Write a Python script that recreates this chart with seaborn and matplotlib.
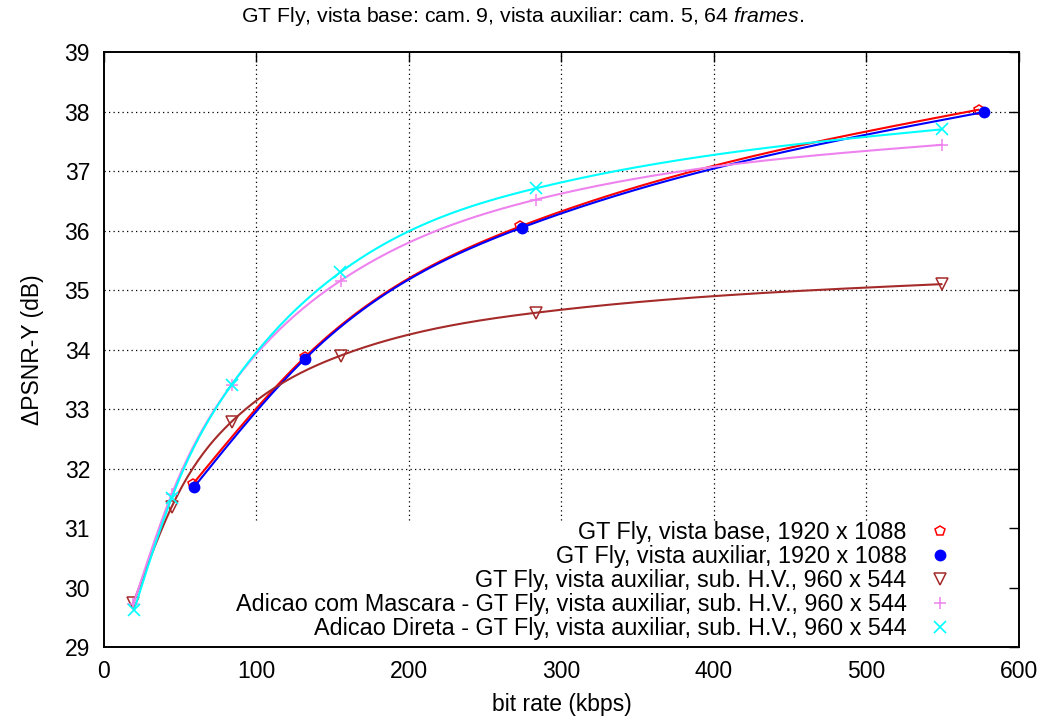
import numpy as np
import pandas as pd
import matplotlib
matplotlib.use("Agg")
import matplotlib.pyplot as plt
import seaborn as sns

# ---------------- data ----------------
base_x = [58.5, 132.0, 273.0, 573.5]
base_y = [31.75, 33.88, 36.07, 38.03]

aux_x = [59.0, 132.0, 274.0, 577.0]
aux_y = [31.69, 33.85, 36.05, 37.99]

sub_x = [19.2, 44.4, 83.7, 155.2, 283.3, 549.3]
sub_y = [29.74, 31.36, 32.79, 33.90, 34.62, 35.10]

masc_x = [19.2, 44.4, 83.7, 155.2, 283.3, 549.3]
masc_y = [29.72, 31.57, 33.41, 35.16, 36.52, 37.44]

direta_x = [19.8, 44.4, 83.7, 155.0, 283.3, 549.3]
direta_y = [29.63, 31.51, 33.41, 35.30, 36.71, 37.70]

labels = [
    "GT Fly, vista base, 1920 x 1088",
    "GT Fly, vista auxiliar, 1920 x 1088",
    "GT Fly, vista auxiliar, sub. H.V., 960 x 544",
    "Adicao com Mascara - GT Fly, vista auxiliar, sub. H.V., 960 x 544",
    "Adicao Direta - GT Fly, vista auxiliar, sub. H.V., 960 x 544",
]
xticks = [0, 100, 200, 300, 400, 500, 600]
yticks = [29, 30, 31, 32, 33, 34, 35, 36, 37, 38, 39]

# ---------------- style ----------------
sns.set_theme(style="white")
plt.rcParams["font.family"] = ["Liberation Sans", "DejaVu Sans"]
plt.rcParams["mathtext.fontset"] = "custom"
plt.rcParams["mathtext.rm"] = "Liberation Sans"
plt.rcParams["mathtext.it"] = "Liberation Sans:italic"
plt.rcParams["text.color"] = "black"
plt.rcParams["axes.labelcolor"] = "black"
plt.rcParams["xtick.color"] = "black"
plt.rcParams["ytick.color"] = "black"
FS = 16.5


def natural_spline(x, y, n=300):
    """Natural cubic spline (like gnuplot 'smooth csplines') used to draw the curve."""
    x = np.asarray(x, float)
    y = np.asarray(y, float)
    k = len(x)
    h = np.diff(x)
    A = np.zeros((k, k))
    b = np.zeros(k)
    A[0, 0] = A[-1, -1] = 1.0
    for i in range(1, k - 1):
        A[i, i - 1] = h[i - 1]
        A[i, i] = 2 * (h[i - 1] + h[i])
        A[i, i + 1] = h[i]
        b[i] = 6 * ((y[i + 1] - y[i]) / h[i] - (y[i] - y[i - 1]) / h[i - 1])
    M = np.linalg.solve(A, b)
    xs = np.linspace(x[0], x[-1], n)
    idx = np.clip(np.searchsorted(x, xs) - 1, 0, k - 2)
    xi, xi1, hi = x[idx], x[idx + 1], h[idx]
    ys = (M[idx] * (xi1 - xs) ** 3 / (6 * hi)
          + M[idx + 1] * (xs - xi) ** 3 / (6 * hi)
          + (y[idx] / hi - M[idx] * hi / 6) * (xi1 - xs)
          + (y[idx + 1] / hi - M[idx + 1] * hi / 6) * (xs - xi))
    return xs, ys


fig = plt.figure(figsize=(10.45, 7.22), dpi=100)
ax = fig.add_axes([0.0995, 0.1035, 0.8756, 0.8245])

# grid (dotted), hidden behind the key area
grid_kw = dict(color="black", lw=0.9, linestyle=(0, (1, 2.6)), zorder=0.8)
ax.vlines(xticks[1:-1], 31.14, 39, **grid_kw)
ax.hlines([v for v in yticks[1:-1] if v >= 32], 0, 600, **grid_kw)

series = [
    (base_x, base_y, "#ff0000", dict(marker="p", ms=7.5, mfc="none", mew=1.1)),
    (aux_x, aux_y, "#0000ff", dict(marker="o", ms=7.5, mfc="#0000ff", mew=1.0)),
    (sub_x, sub_y, "#a52a2a", dict(marker="v", ms=8, mfc="none", mew=1.1)),
    (masc_x, masc_y, "#ee82ee", dict(marker="+", ms=9, mew=1.1)),
    (direta_x, direta_y, "#00ffff", dict(marker="x", ms=8, mew=1.2)),
]

z = 2
for (xv, yv, col, mk), lab in zip(series, labels):
    xs, ys = natural_spline(xv, yv)
    df = pd.DataFrame({"x": xs, "y": ys})
    sns.lineplot(data=df, x="x", y="y", ax=ax, color=col, lw=1.5,
                 sort=False, legend=False, zorder=z)
    ax.plot(xv, yv, linestyle="none", color=col, mec=col, label=lab,
            zorder=z + 0.5, **mk)
    z += 1

ax.set_xlim(0, 600)
ax.set_ylim(29, 39)
ax.set_xticks(xticks)
ax.set_yticks(yticks)
ax.tick_params(direction="in", top=True, right=True, length=7, width=1.0,
               colors="black", labelsize=FS)
ax.tick_params(axis="x", pad=9.5)
ax.tick_params(axis="y", pad=10)
for s in ax.spines.values():
    s.set_color("black")
    s.set_linewidth(1.4)

ax.set_xlabel("bit rate (kbps)", fontsize=FS, labelpad=7)
ax.set_ylabel("\u0394PSNR-Y (dB)", fontsize=FS, labelpad=15)
fig.text(0.5, 1 - 22 / 722,
         r"GT Fly, vista base: cam. 9, vista auxiliar: cam. 5, 64 $\mathit{frames}$.",
         fontsize=15.3, ha="center", va="baseline", color="black")

leg = ax.legend(loc="lower right", bbox_to_anchor=(0.926, 0.012), markerfirst=False,
                frameon=False, fontsize=16.8, handlelength=1.0, handletextpad=0.92,
                labelspacing=0.04, borderpad=0, borderaxespad=0)

fig.savefig("out.png", dpi=100)
